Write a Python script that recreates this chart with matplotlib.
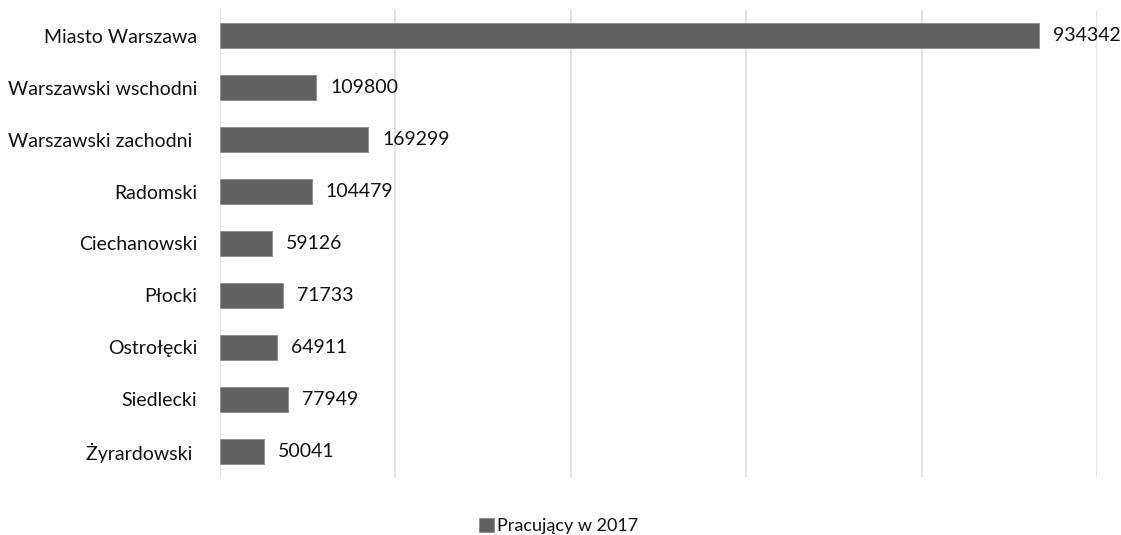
import matplotlib
matplotlib.use("Agg")
import matplotlib.pyplot as plt
from matplotlib.patches import Patch

categories = ["Miasto Warszawa", "Warszawski wschodni", "Warszawski zachodni ", "Radomski",
              "Ciechanowski", "Płocki", "Ostrołęcki", "Siedlecki", "Żyrardowski "]
values = [934342, 109800, 169299, 104479, 59126, 71733, 64911, 77949, 50041]
series_name = "Pracujący w 2017"

plt.rcParams['font.family'] = ['Lato', 'DejaVu Sans']

W, H = 1121, 535
fig = plt.figure(figsize=(W / 100, H / 100), dpi=100)
ax = fig.add_axes([220 / W, (H - 477) / H, (1097 - 220) / W, (477 - 10) / H])

bar_color = "#606060"
fs = 14
y = list(range(len(categories)))
ax.barh(y, values, height=0.48, color=bar_color, edgecolor="#8a8a8a", linewidth=0.6, zorder=3)
ax.set_ylim(len(categories) - 0.5, -0.5)
ax.set_xlim(0, 1000000)
ax.set_xticks([0, 200000, 400000, 600000, 800000, 1000000])
ax.xaxis.grid(True, color="#d9dde5", linewidth=1.2, zorder=0)
ax.tick_params(axis='x', length=0, labelbottom=False)
ax.tick_params(axis='y', length=0, pad=16.5, labelsize=fs, labelcolor="#111111")
ax.set_yticks(y)
ax.set_yticklabels(categories)
for s in ax.spines.values():
    s.set_visible(False)

for yi, v in zip(y, values):
    ax.annotate(f"{v}", xy=(v, yi), xytext=(10, 0), textcoords="offset points",
                ha="left", va="center", fontsize=fs, color="#111111")

handle = Patch(facecolor=bar_color, edgecolor="#8a8a8a", linewidth=0.6)
fig.legend([handle], [series_name], loc="center", bbox_to_anchor=(559 / W, (H - 526) / H),
           frameon=False, fontsize=13, handlelength=0.8, handleheight=0.8,
           handletextpad=0.2, labelcolor="#111111")

fig.savefig("out.png", dpi=100, facecolor="white")
